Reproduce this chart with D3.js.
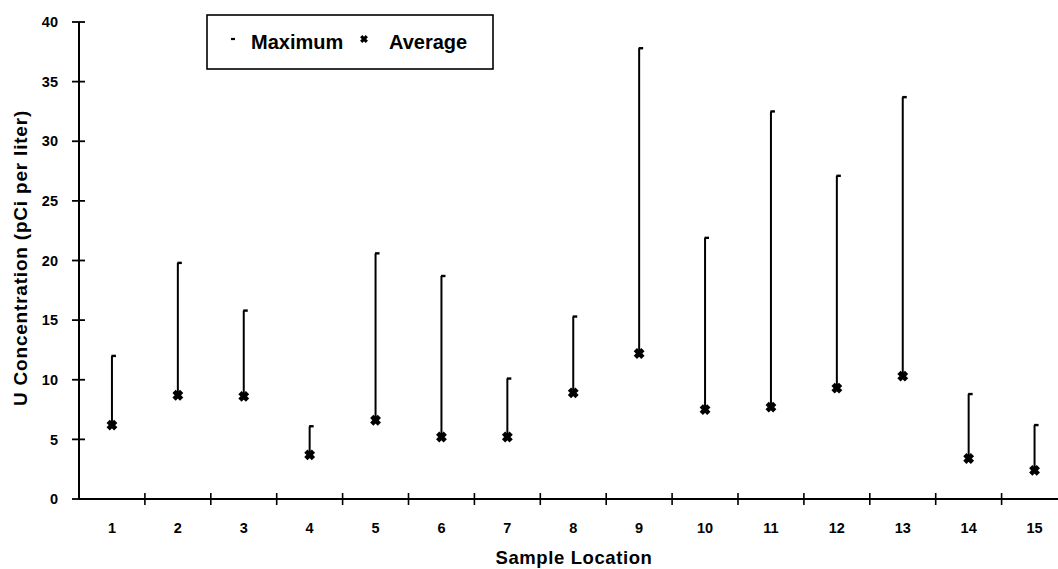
<!DOCTYPE html>
<html>
<head>
<meta charset="utf-8">
<script src="https://cdn.jsdelivr.net/npm/d3@7"></script>
<style>
  html, body { margin: 0; padding: 0; background: #fff; }
  svg { display: block; }
  text { font-family: "Liberation Sans", Arial, Helvetica, sans-serif; font-weight: bold; fill: #000; }
</style>
</head>
<body>
<svg id="chart" width="1058" height="569"></svg>
<script>
// Sample locations and uranium concentrations (pCi per liter)
const locations = ["1","2","3","4","5","6","7","8","9","10","11","12","13","14","15"];
const maximumValues = [12.0, 19.8, 15.8, 6.1, 20.6, 18.7, 10.1, 15.3, 37.8, 21.9, 32.5, 27.1, 33.7, 8.8, 6.2];
const averageValues = [6.2, 8.7, 8.6, 3.7, 6.6, 5.2, 5.2, 8.9, 12.2, 7.5, 7.7, 9.3, 10.3, 3.4, 2.4];
const yTicks = [0, 5, 10, 15, 20, 25, 30, 35, 40];

const rows = locations.map((loc, i) => ({ loc, max: maximumValues[i], avg: averageValues[i] }));

const W = 1058, H = 569;
const left = 79, bandW = 65.9;
const svg = d3.select("#chart");

const x = d3.scaleBand().domain(locations).range([left, left + bandW * locations.length]).paddingInner(0).paddingOuter(0);
const y = d3.scaleLinear().domain([0, 40]).range([499, 22]);

const ink = "#000";

// Y axis: line with ticks crossing it
const yAxis = svg.append("g");
yAxis.append("line").attr("x1", left).attr("x2", left).attr("y1", y(40)).attr("y2", y(0))
  .attr("stroke", ink).attr("stroke-width", 2);
yAxis.selectAll("line.tick").data(yTicks).join("line").attr("class", "tick")
  .attr("x1", left - 7).attr("x2", left + 6)
  .attr("y1", d => y(d)).attr("y2", d => y(d))
  .attr("stroke", ink).attr("stroke-width", 1.8);
yAxis.selectAll("text").data(yTicks).join("text")
  .attr("x", 58).attr("y", d => y(d)).attr("dy", "0.36em")
  .attr("text-anchor", "end").style("font-size", "14.5px")
  .text(d => d);

// X axis: line across the bottom, ticks at category boundaries
const xAxis = svg.append("g");
xAxis.append("line").attr("x1", left).attr("x2", W).attr("y1", y(0)).attr("y2", y(0))
  .attr("stroke", ink).attr("stroke-width", 2);
const boundaries = locations.slice(1).map(l => x(l));
xAxis.selectAll("line.tick").data(boundaries).join("line").attr("class", "tick")
  .attr("x1", d => d).attr("x2", d => d)
  .attr("y1", y(0) - 6).attr("y2", y(0) + 6)
  .attr("stroke", ink).attr("stroke-width", 1.6);
xAxis.selectAll("text").data(locations).join("text")
  .attr("x", d => x(d) + x.bandwidth() / 2).attr("y", 533)
  .attr("text-anchor", "middle").style("font-size", "14.5px")
  .text(d => d);

// Axis titles
svg.append("text").attr("x", 574).attr("y", 564).attr("text-anchor", "middle")
  .style("font-size", "18.5px").style("letter-spacing", "0.6px")
  .text("Sample Location");
svg.append("text").attr("transform", "translate(27,258) rotate(-90)").attr("text-anchor", "middle")
  .style("font-size", "19px").style("letter-spacing", "0.8px")
  .text("U Concentration (pCi per liter)");

// Range lines from average up to maximum
const cx = d => x(d.loc) + x.bandwidth() / 2;
const marks = svg.append("g");
marks.selectAll("line.range").data(rows).join("line").attr("class", "range")
  .attr("x1", cx).attr("x2", cx)
  .attr("y1", d => y(d.avg)).attr("y2", d => y(d.max))
  .attr("stroke", ink).attr("stroke-width", 2);

// Maximum marker: short dash at the top of each line
marks.selectAll("line.max").data(rows).join("line").attr("class", "max")
  .attr("x1", d => cx(d) - 0.5).attr("x2", d => cx(d) + 4)
  .attr("y1", d => y(d.max)).attr("y2", d => y(d.max))
  .attr("stroke", ink).attr("stroke-width", 2.4);

// Average marker: heavy X
const xMark = (s) => `M${-s},${-s}L${s},${s}M${s},${-s}L${-s},${s}`;
marks.selectAll("path.avg").data(rows).join("path").attr("class", "avg")
  .attr("transform", d => `translate(${cx(d)},${y(d.avg)})`)
  .attr("d", xMark(3.8))
  .attr("stroke", ink).attr("stroke-width", 4.6).attr("fill", "none");

// Legend
const legend = svg.append("g");
legend.append("rect").attr("x", 207).attr("y", 15).attr("width", 286).attr("height", 54)
  .attr("fill", "#fff").attr("stroke", ink).attr("stroke-width", 1.6);
legend.append("line").attr("x1", 231).attr("x2", 235).attr("y1", 39).attr("y2", 39)
  .attr("stroke", ink).attr("stroke-width", 2.2);
legend.append("text").attr("x", 251).attr("y", 48.5).style("font-size", "20px").text("Maximum");
legend.append("path").attr("transform", "translate(364,39)").attr("d", xMark(2.8))
  .attr("stroke", ink).attr("stroke-width", 3.2).attr("fill", "none");
legend.append("text").attr("x", 389).attr("y", 48.5).style("font-size", "20px").text("Average");
</script>
</body>
</html>
